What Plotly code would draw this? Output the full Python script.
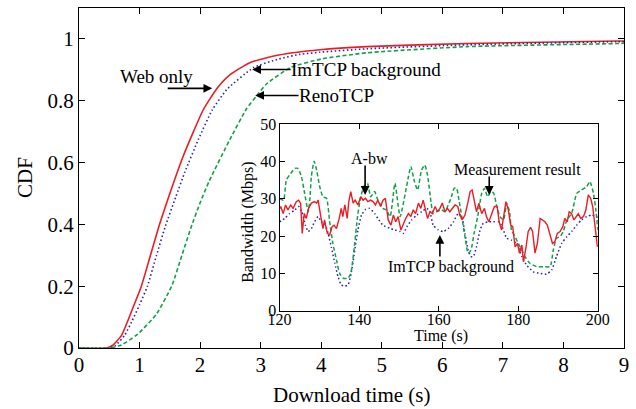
import plotly.graph_objects as go

# ---------------- main CDF data ----------------
web_x = [0, 0.45, 0.55, 0.7, 0.8, 0.9, 1.03, 1.18, 1.33, 1.5, 1.7, 1.89, 2.05, 2.16, 2.3, 2.5, 2.82, 3.3, 3.98, 4.75, 6.4, 8.88, 9]
web_y = [0, 0, 0.008, 0.04, 0.085, 0.135, 0.2, 0.3, 0.4, 0.5, 0.61, 0.7, 0.77, 0.805, 0.845, 0.885, 0.923, 0.948, 0.965, 0.975, 0.985, 0.993, 0.993]

imtcp_x = [0, 0.5, 0.6, 0.75, 0.87, 1.0, 1.13, 1.28, 1.42, 1.6, 1.75, 1.97, 2.2, 2.44, 2.88, 3.3, 3.65, 3.98, 4.75, 6.4, 8.88, 9]
imtcp_y = [0, 0, 0.008, 0.04, 0.085, 0.14, 0.2, 0.3, 0.39, 0.49, 0.57, 0.674, 0.77, 0.836, 0.907, 0.935, 0.95, 0.957, 0.968, 0.981, 0.991, 0.991]

reno_x = [0, 0.5, 0.7, 0.97, 1.28, 1.53, 1.7, 1.85, 2.0, 2.15, 2.49, 2.77, 2.93, 3.1, 3.5, 4.0, 4.75, 6.4, 8.88, 9]
reno_y = [0, 0, 0.01, 0.045, 0.11, 0.2, 0.3, 0.39, 0.47, 0.54, 0.674, 0.775, 0.815, 0.855, 0.908, 0.935, 0.955, 0.975, 0.985, 0.986]

x_ticks = [0, 1, 2, 3, 4, 5, 6, 7, 8, 9]
y_ticks = [0, 0.2, 0.4, 0.6, 0.8, 1]
y_tick_text = ["0", "0.2", "0.4", "0.6", "0.8", "1"]

# ---------------- inset bandwidth data ----------------
abw_t = [119.6, 120.3, 120.9, 121.5, 122.1, 122.8, 123.4, 124.2, 124.8, 125.3, 125.7, 126.2, 126.7, 127.3, 128, 128.7,
         129.3, 129.7, 130.3, 130.9, 131.3, 132, 132.6, 133.2, 133.7, 134.3, 135, 135.5, 135.9, 136.4, 137, 137.4,
         137.9, 138.5, 139, 139.7, 140.4, 141, 141.6, 142.2, 142.9, 143.5, 144.1, 144.7, 145.4, 146, 146.6, 147.3,
         148, 148.6, 149.2, 149.8, 150.5, 151.1, 151.7, 152.4, 153, 153.6, 154.2, 154.9, 155.5, 156.1, 156.7, 157.2,
         157.8, 158.4, 159.1, 159.7, 160.3, 160.9, 161.6, 162.2, 162.8, 163.4, 164.1, 164.8, 165.3, 165.9, 166.6,
         167.3, 167.9, 168.4, 169, 169.5, 170.1, 170.8, 171.5, 172, 172.6, 173.3, 174, 174.7, 175.2, 175.8, 176.4,
         176.9, 177.5, 178.1, 178.6, 179.2, 179.8, 180.3, 180.9, 181.3, 181.9, 182.5, 183.1, 183.6, 184.2, 184.8,
         185.5, 186.1, 186.7, 187.3, 188, 188.6, 189.2, 189.8, 190.5, 191.2, 191.7, 192.3, 192.8, 193.4, 194, 194.5,
         195.1, 195.7, 196.4, 197, 197.6, 198.2, 198.7, 199.3, 199.9]
abw_v = [26.5, 27.9, 26, 28.3, 27, 28.3, 27.4, 29.2, 29.6, 28.7, 20.7, 26, 24.7, 27.4, 28.8, 29.2,
         28.8, 29.6, 25.6, 22, 24.3, 20.7, 20.3, 22.5, 22.9, 22, 24.7, 27.4, 25.2, 28.3, 24.7, 29.2,
         31.9, 28.8, 29.6, 28.3, 30.5, 29.6, 30.1, 29.2, 29.6, 29.2, 28.3, 29.6, 27.9, 29.6, 30.1, 24.3,
         22.9, 25.6, 23.8, 25.2, 21.6, 23.4, 24.7, 26, 25.2, 27, 26, 28.8, 27.4, 29.6, 27, 24.7,
         26.5, 26, 27.9, 26.5, 27.4, 28.8, 26.5, 27.4, 26.5, 27.4, 28.3, 27.9, 25.6, 24.3, 25.6,
         28.8, 31.9, 32.3, 29.6, 26.5, 28.8, 26, 27.4, 25.2, 23.8, 25.6, 27.9, 27.9, 23.8, 21.6, 25.2,
         29.2, 27, 22.9, 22.5, 17.1, 18, 15.4, 17.6, 13.1, 16.7, 21.2, 22.3, 21.2, 15.4, 18,
         24.7, 24.3, 23.8, 22.9, 20.3, 18, 18.5, 20.7, 21.2, 22.5, 24.7, 23.8, 26.5, 26, 24.3, 25.2,
         26, 24.7, 25.2, 27, 31, 30.1, 27.9, 22.5, 17.1]

meas_t = [120, 121, 121.7, 122.5, 123.8, 124.6, 125.5, 126.3, 127.2, 127.6, 128, 128.7, 129.3, 130.1, 130.9, 131.8,
          132.6, 133.4, 134.3, 135.1, 136, 137.2, 137.9, 138.7, 139.6, 140.4, 141.2, 142.1, 142.9, 143.9, 144.7,
          146, 146.8, 147.8, 149, 150.3, 152.4, 153, 153.9, 154.7, 155.7, 156.5, 157.2, 158.1, 158.6, 159.5,
          160.7, 161.6, 162.4, 163.2, 163.9, 164.5, 165.1, 165.8, 166.6, 167.4, 168.1, 168.9, 169.8, 170.8,
          171.5, 172.3, 173.1, 173.8, 174.6, 175.4, 176.3, 177.1, 177.8, 178.3, 179.2, 180, 180.9, 181.7, 182.9,
          184.6, 186.3, 188, 188.8, 189.6, 190.5, 191.3, 192.2, 193.4, 194.7, 195.9, 197.2, 198, 198.9, 199.5, 200]
meas_v = [30, 29.6, 35, 36.3, 38.1, 38.1, 35.9, 31.4, 26.5, 29.6, 36, 40, 37.7, 33.2, 30.5, 30.1,
          23.8, 18, 13.6, 10, 8.7, 8.7, 10, 16.2, 25.2, 30.5, 33.2, 34.1, 30.5, 31.9, 29.6,
          27.4, 27, 25.2, 34.1, 25.2, 35.9, 38.6, 34.6, 32.3, 37.7, 39, 36.3, 28.8, 26, 26.5,
          27, 26.5, 28.3, 30.5, 32.8, 32.8, 29.6, 25.2, 19.8, 15.4, 16.2, 20.7, 25.2, 31.4,
          32.8, 30.5, 31.9, 31.5, 27.9, 25.2, 24.3, 28.8, 26.5, 21.6, 19.8, 18, 16.2, 14.5, 12.7,
          11.8, 11.8, 11.8, 16.2, 19.4, 19.8, 21.2, 24.3, 26, 31.4, 32.3, 33.2, 34.6, 31.4, 27, 21.6]

bg_t = [120, 121.3, 122.5, 123.8, 124.8, 125.6, 126.5, 127.2, 128, 128.8, 129.7, 130.5, 131.3, 132.2, 133, 133.9,
        134.7, 135.5, 136.4, 137.2, 138, 138.9, 139.7, 140.6, 141.6, 142.6, 143.9, 144.7, 146, 147.8, 149, 150.3,
        151.1, 152, 153.2, 154.5, 155.7, 157, 157.8, 158.6, 159.9, 161.2, 162.4, 163.7, 164.9, 165.8, 166.6,
        167.4, 168.1, 168.7, 169.5, 170.4, 171.2, 172.5, 173.7, 175, 175.8, 177.1, 178.3, 179.6, 180.9, 182.1,
        183.8, 185.5, 187.1, 188.4, 189.6, 190.9, 192.2, 193.4, 194.7, 195.9, 197.2, 198.4, 199.7, 200]
bg_v = [23.8, 24.7, 26, 26.9, 27.9, 26.5, 22.9, 21.2, 22, 23.8, 25.2, 23.8, 23.4, 20.7, 17.1, 12.7,
        9.1, 6.9, 6.6, 6.9, 10, 16.2, 21.6, 25.6, 27.1, 27.4, 26, 24.7, 22.9, 22, 21.6, 21.2,
        20.7, 22.5, 24.3, 25.6, 26.5, 27.4, 26.5, 22.9, 21.6, 21.2, 22, 23.8, 26, 25.2, 20.7,
        16.2, 14.5, 14.5, 17.1, 21.6, 23.4, 23.8, 23.8, 23.8, 22.9, 19.4, 18.9, 18, 14.5, 12.2,
        10.4, 10, 9.8, 10.9, 14.5, 18, 19.8, 21.2, 22.9, 24.3, 25.2, 25.6, 25.2, 24]

inset_x_ticks = [120, 140, 160, 180, 200]
inset_y_ticks = [0, 10, 20, 30, 40, 50]

RED = "#ec1c24"
BLUE = "#2424a8"
GREEN = "#10a048"
FONT = "Liberation Serif"

fig = go.Figure()

# main curves
fig.add_trace(go.Scatter(x=web_x, y=web_y, mode="lines", line=dict(color=RED, width=1.6, shape="spline", smoothing=0.5),
                         xaxis="x", yaxis="y", showlegend=False))
fig.add_trace(go.Scatter(x=imtcp_x, y=imtcp_y, mode="lines",
                         line=dict(color=BLUE, width=1.6, dash="1.5px,2.5px", shape="spline", smoothing=0.5),
                         xaxis="x", yaxis="y", showlegend=False))
fig.add_trace(go.Scatter(x=reno_x, y=reno_y, mode="lines",
                         line=dict(color=GREEN, width=1.6, dash="4px,2.5px", shape="spline", smoothing=0.5),
                         xaxis="x", yaxis="y", showlegend=False))

# inset curves
fig.add_trace(go.Scatter(x=bg_t, y=bg_v, mode="lines",
                         line=dict(color=BLUE, width=1.5, dash="1.5px,2.5px", shape="spline", smoothing=0.5),
                         xaxis="x2", yaxis="y2", showlegend=False))
fig.add_trace(go.Scatter(x=meas_t, y=meas_v, mode="lines",
                         line=dict(color=GREEN, width=1.5, dash="4px,2.5px", shape="spline", smoothing=0.5),
                         xaxis="x2", yaxis="y2", showlegend=False))
fig.add_trace(go.Scatter(x=abw_t, y=abw_v, mode="lines", line=dict(color=RED, width=1.4),
                         xaxis="x2", yaxis="y2", showlegend=False))

axis_common = dict(showline=True, linecolor="black", linewidth=1.3, mirror="ticks", ticks="inside",
                   tickcolor="black", tickwidth=1, showgrid=False, zeroline=False, automargin=False)

fig.update_layout(
    width=636, height=409,
    margin=dict(l=79, r=12, t=8, b=61),
    paper_bgcolor="white", plot_bgcolor="white",
    font=dict(family=FONT, color="black", size=21),
    xaxis=dict(domain=[0, 1], range=[0, 9], tickvals=x_ticks, ticklen=6, ticklabelstandoff=-2,
               tickfont=dict(size=21), anchor="y", **axis_common),
    yaxis=dict(domain=[0, 1], range=[0, 1.1], tickvals=y_ticks, ticktext=y_tick_text, ticklen=6,
               tickfont=dict(size=21), anchor="x", **axis_common),
    xaxis2=dict(domain=[0.368, 0.952], range=[120, 200], tickvals=inset_x_ticks, ticklen=5, ticklabelstandoff=-6,
                tickfont=dict(size=16), anchor="y2", **axis_common),
    yaxis2=dict(domain=[0.1097, 0.659], range=[0, 50], tickvals=inset_y_ticks, ticklen=5, ticklabelstandoff=-1,
                tickfont=dict(size=16), anchor="x2", **axis_common),
)

# axis titles
fig.add_annotation(x=0.5, y=-0.138, xref="paper", yref="paper", text="Download time (s)", showarrow=False,
                   font=dict(size=21), xanchor="center", yanchor="middle")
fig.add_annotation(x=-0.099, y=0.5, xref="paper", yref="paper", text="CDF", showarrow=False, textangle=-90,
                   font=dict(size=21), xanchor="center", yanchor="middle")
fig.add_annotation(x=160.5, y=0.036, xref="x2", yref="paper", text="Time (s)", showarrow=False,
                   font=dict(size=16), xanchor="center", yanchor="middle")
fig.add_annotation(x=0.310, y=0.371, xref="paper", yref="paper", text="Bandwidth (Mbps)", showarrow=False,
                   textangle=-90, font=dict(size=16), xanchor="center", yanchor="middle")

arrow = dict(showarrow=True, arrowhead=2, arrowsize=1.1, arrowwidth=1.6, arrowcolor="black", text="", standoff=0)

# main annotations
fig.add_annotation(x=2.2, y=0.84, ax=1.44, ay=0.84, xref="x", yref="y", axref="x", ayref="y", **arrow)
fig.add_annotation(x=1.28, y=0.878, xref="x", yref="y", text="Web only", showarrow=False,
                   font=dict(size=19), xanchor="center", yanchor="middle")
fig.add_annotation(x=2.86, y=0.901, ax=3.52, ay=0.901, xref="x", yref="y", axref="x", ayref="y", **arrow)
fig.add_annotation(x=3.52, y=0.901, xref="x", yref="y", text="ImTCP background", showarrow=False,
                   font=dict(size=19), xanchor="left", yanchor="middle", xshift=-3)
fig.add_annotation(x=2.91, y=0.817, ax=3.65, ay=0.817, xref="x", yref="y", axref="x", ayref="y", **arrow)
fig.add_annotation(x=3.65, y=0.817, xref="x", yref="y", text="RenoTCP", showarrow=False,
                   font=dict(size=19), xanchor="left", yanchor="middle", xshift=-3)

# inset annotations
fig.add_annotation(x=141.5, y=31.0, ax=141.5, ay=39.3, xref="x2", yref="y2", axref="x2", ayref="y2", **arrow)
fig.add_annotation(x=142.5, y=40.8, xref="x2", yref="y2", text="A-bw", showarrow=False,
                   font=dict(size=16), xanchor="center", yanchor="middle")
fig.add_annotation(x=172.7, y=31.0, ax=172.7, ay=36.3, xref="x2", yref="y2", axref="x2", ayref="y2", **arrow)
fig.add_annotation(x=179.7, y=37.9, xref="x2", yref="y2", text="Measurement result", showarrow=False,
                   font=dict(size=16), xanchor="center", yanchor="middle")
fig.add_annotation(x=160.3, y=20.3, ax=160.3, ay=14.1, xref="x2", yref="y2", axref="x2", ayref="y2", **arrow)
fig.add_annotation(x=163.2, y=11.8, xref="x2", yref="y2", text="ImTCP background", showarrow=False,
                   font=dict(size=16), xanchor="center", yanchor="middle")

fig.write_html("out.html", config={"displayModeBar": False},
               post_script="document.body.style.margin='0';document.body.style.overflow='hidden';")
